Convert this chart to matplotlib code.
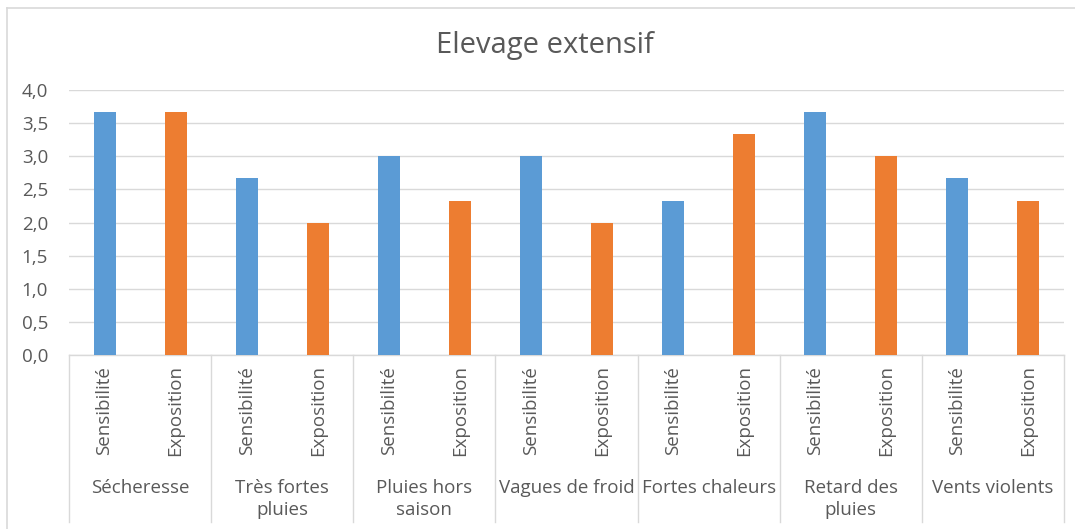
import numpy as np
import matplotlib.pyplot as plt
import matplotlib.transforms as mtransforms

plt.rcParams['font.family'] = ['Open Sans', 'DejaVu Sans']

# data
groups = ["Sécheresse", "Très fortes\npluies", "Pluies hors\nsaison", "Vagues de froid",
          "Fortes chaleurs", "Retard des\npluies", "Vents violents"]
series = ["Sensibilité", "Exposition"]
sensibilite = [3.67, 2.67, 3.0, 3.0, 2.33, 3.67, 2.67]
exposition = [3.67, 2.0, 2.33, 2.0, 3.33, 3.0, 2.33]
yticks = [0.0, 0.5, 1.0, 1.5, 2.0, 2.5, 3.0, 3.5, 4.0]

blue = "#5B9BD5"
orange = "#ED7D31"
grid_c = "#D9D9D9"
txt_c = "#595959"
fs = 13.5

W, H = 1075, 529
fig = plt.figure(figsize=(W / 100, H / 100), dpi=100)
# plot area in pixels: x 69..1064, y 90..355
ax = fig.add_axes([69 / W, 1 - 355 / H, (1064 - 69) / W, (355 - 90) / H])

n = len(groups)
xs_s = np.arange(n) * 2
xs_e = np.arange(n) * 2 + 1
ax.bar(xs_s, sensibilite, width=0.31, color=blue, zorder=3)
ax.bar(xs_e, exposition, width=0.31, color=orange, zorder=3)

ax.set_xlim(-0.5, 2 * n - 0.5)
ax.set_ylim(0, 4)
ax.set_yticks(yticks)
ax.set_yticklabels([f"{v:.1f}".replace(".", ",") for v in yticks], color=txt_c, fontsize=fs)
ax.tick_params(axis='y', length=0, pad=15)
ax.set_xticks([])
ax.yaxis.grid(True, color=grid_c, linewidth=1)
ax.set_axisbelow(True)
for s in ["top", "right", "left"]:
    ax.spines[s].set_visible(False)
ax.spines["bottom"].set_color(grid_c)
ax.spines["bottom"].set_linewidth(1)

# multi-level category axis
trans = mtransforms.blended_transform_factory(ax.transData, ax.transAxes)
ph = 355 - 90
def ay(py):
    return -(py - 355) / ph

for i in range(n + 1):
    x = i * 2 - 0.5
    ax.plot([x, x], [0, ay(522)], transform=trans, color=grid_c, lw=1, clip_on=False)

for i in range(n):
    for j, lab in enumerate(series):
        ax.text(i * 2 + j, ay(411), lab, transform=trans, rotation=90, ha='center', va='center',
                fontsize=fs, color=txt_c)
    ax.text(i * 2 + 0.5, ay(479), groups[i], transform=trans, ha='center', va='top',
            fontsize=fs, color=txt_c, linespacing=1.3)

fig.text(545 / W, 1 - 46 / H, "Elevage extensif", ha='center', va='center', fontsize=21, color=txt_c)

# chart frame
fig.add_artist(plt.Line2D([6.5 / W, 6.5 / W], [0, 1 - 8 / H], color=grid_c, lw=1.2))
fig.add_artist(plt.Line2D([6.5 / W, 1], [1 - 8 / H, 1 - 8 / H], color=grid_c, lw=1.2))

fig.savefig("out.png", dpi=100)
